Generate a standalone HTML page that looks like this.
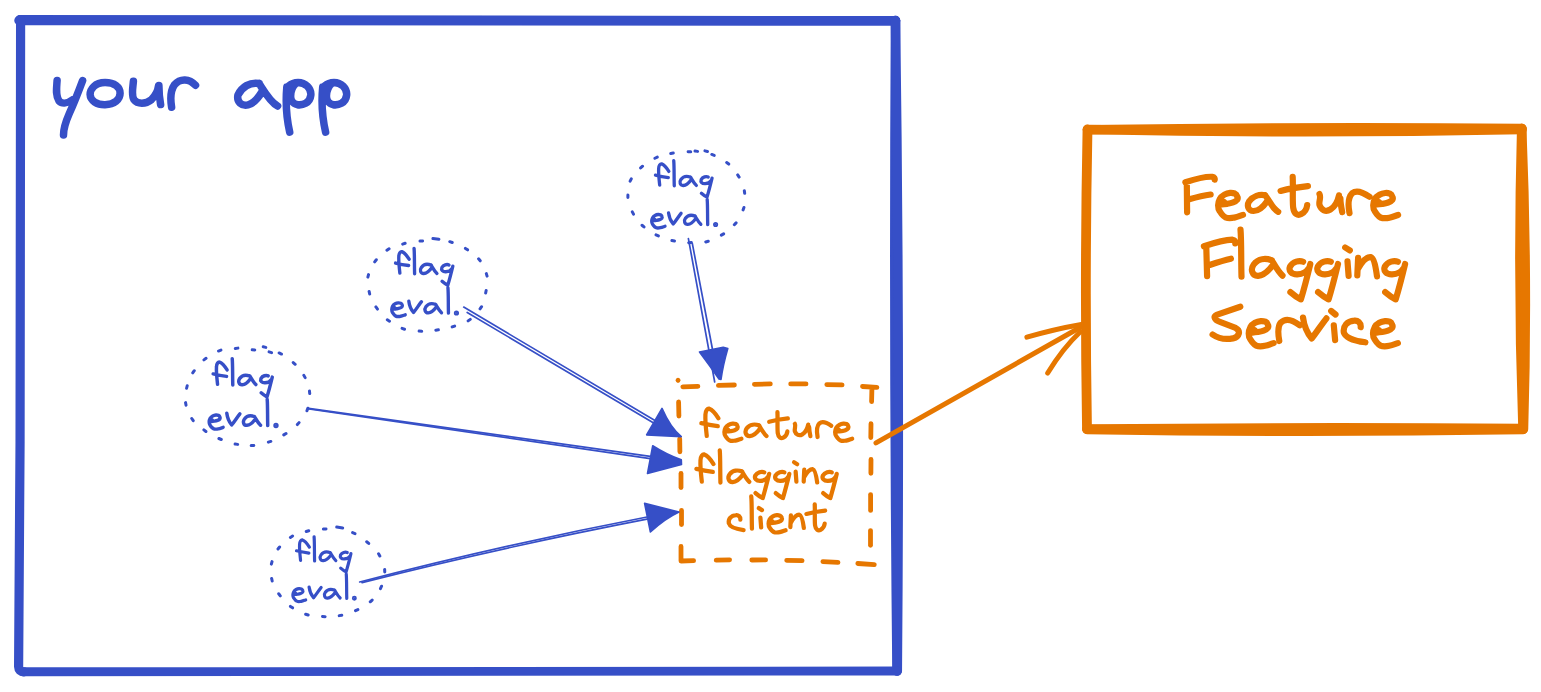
<!DOCTYPE html>
<html><head><meta charset="utf-8">
<style>
html,body{margin:0;padding:0;background:#fff;width:1541px;height:692px;overflow:hidden;font-family:"Liberation Sans",sans-serif;}
svg{position:absolute;left:0;top:0;}
</style></head>
<body>
<svg width="1541" height="692" viewBox="0 0 1541 692">
<g fill="none" stroke-linecap="round" stroke-linejoin="round">
<!-- big blue rect -->
<g stroke="#364fc7">
<path d="M19.8 19.8 Q458 19.5 895.5 20.8" stroke-width="9.5"/>
<path d="M19 20.5 Q458 21.5 895.5 20.8" stroke-width="9.5"/>
<path d="M895.5 20.5 Q893.5 345 897 671" stroke-width="9.5"/>
<path d="M895.5 20.5 Q900 345 897.3 671" stroke-width="9.5"/>
<path d="M23 671.8 L897 671" stroke-width="8.9"/>
<path d="M20.6 19.6 C20.8 250 20.5 450 18.6 666.5 Q18.8 671.8 24 671.8" stroke-width="9.2"/>
</g>
<!-- orange service rect -->
<g stroke="#e67700" stroke-width="9.5">
<path d="M1087.5 129.8 Q1305 126.5 1522 128.5"/>
<path d="M1087.5 129.5 Q1305 134 1522 129.5"/>
<path d="M1087 429 Q1305 427 1523 428.5"/>
<path d="M1087 429.5 Q1305 433 1523 429.5"/>
<path d="M1087.5 129.5 Q1084.5 280 1087 429" stroke-width="9.8"/>
<path d="M1521.7 128.5 Q1517.5 280 1523 429"/>
<path d="M1521.7 128.5 Q1528 280 1523.5 429"/>
</g>
<!-- ellipses -->
<path d="M670.72 153.55L673.28 153.05M688.10 151.75L690.70 151.85M695.01 151.03L697.59 151.37M704.94 150.87L707.46 151.53M711.79 154.44L714.21 155.36M726.66 162.53L728.74 164.07M737.68 174.92L739.12 177.08M744.33 190.71L744.67 193.29M743.94 207.48L743.06 209.92M736.09 222.85L734.31 224.75M723.63 233.86L721.37 235.14M708.25 241.26L705.75 241.94M691.30 242.54L688.70 242.66M674.48 241.03L671.92 240.57M658.39 235.83L656.01 234.77M643.98 226.95L642.02 225.25M633.50 214.15L632.30 211.85M627.89 197.60L627.91 195.00M630.12 181.16L631.28 178.84M640.64 167.97L642.56 166.23M654.92 158.25L657.28 157.15M420.00 241.11L422.60 240.89M449.77 241.69L452.23 242.51M465.41 248.39L467.59 249.81M478.58 258.79L480.22 260.81M486.34 273.65L487.06 276.15M486.15 290.52L485.65 293.08M481.56 306.74L480.04 308.86M470.26 319.35L468.14 320.85M454.62 326.04L452.18 326.96M438.39 329.83L435.81 330.17M421.69 331.32L419.11 331.08M404.53 329.21L402.07 328.39M389.49 321.21L387.31 319.79M377.49 309.04L375.91 306.96M369.68 293.97L369.12 291.43M367.88 277.16L368.52 274.64M374.70 261.82L376.30 259.78M386.92 250.22L389.08 248.78M402.67 244.12L405.13 243.28M432.92 238.57L438.88 239.23M235.31 348.49L237.89 348.11M252.20 349.80L254.80 350.00M263.23 346.83L265.77 347.37M269.06 351.91L271.54 352.69M279.12 352.95L281.48 354.05M293.22 362.54L295.18 364.26M303.86 375.37L305.14 377.63M309.47 391.01L309.73 393.59M307.84 408.28L306.96 410.72M299.05 422.62L297.35 424.58M286.01 433.52L283.79 434.88M270.85 441.43L268.35 442.17M253.80 445.43L251.20 445.57M237.69 444.39L235.11 444.01M221.30 439.49L218.90 438.51M205.92 431.50L203.88 429.90M193.23 420.68L191.77 418.52M186.05 405.18L185.55 402.62M186.59 388.26L187.21 385.74M192.74 372.86L194.26 370.74M203.95 359.86L206.05 358.34M218.49 351.07L220.91 350.13M323.40 529.07L326.00 528.93M352.60 532.61L355.00 533.59M366.70 541.77L368.70 543.43M378.58 553.76L379.82 556.04M384.65 569.40L384.75 572.00M381.55 586.22L380.45 588.58M372.16 600.02L370.24 601.78M357.88 609.55L355.52 610.65M341.78 615.17L339.22 615.63M325.10 616.68L322.50 616.52M308.14 614.99L305.66 614.21M292.59 607.81L290.41 606.39M280.28 595.84L278.72 593.76M272.18 580.97L271.62 578.43M271.37 564.16L272.03 561.64M278.00 549.02L279.60 546.98M290.41 537.40L292.59 536.00M306.26 531.49L308.74 530.71M336.74 527.03L342.66 527.97" stroke="#364fc7" stroke-width="3"/>
<!-- dashed client rect -->
<g stroke="#e67700" stroke-width="4.8">
<path d="M678.0 380.2 L678.1 380.3"/>
<path d="M682.8 386.8 L697.9 386.4"/>
<path d="M718.4 385.4 L734.4 385.0"/>
<path d="M754.4 384.3 L770.3 383.9"/>
<path d="M790.7 383.9 L806.0 383.9"/>
<path d="M826.8 384.6 L842.1 384.9"/>
<path d="M862.5 386.5 L876.9 387.3 M871.9 389.1 L871.6 401.6"/>
<path d="M871.0 423.7 L870.8 437.5"/>
<path d="M871.0 459.5 L870.9 473.3"/>
<path d="M870.6 494.6 L870.6 510.4"/>
<path d="M870.5 530.6 L870.5 545.3"/>
<path d="M857.8 563.5 L874.3 564.7"/>
<path d="M822.9 561.6 L838.0 562.3"/>
<path d="M786.7 560.3 L802.1 560.7"/>
<path d="M751.8 560.0 L765.6 559.9"/>
<path d="M716.2 560.1 L729.6 559.8"/>
<path d="M681.0 546.5 L681.0 561.0 L693.6 560.7"/>
<path d="M681.5 510.4 L681.5 524.5"/>
<path d="M681.0 473.5 L681.0 487.6"/>
<path d="M679.7 438.8 L679.9 451.8"/>
<path d="M678.6 402.0 L678.9 416.0"/>
</g>
<!-- orange arrow to service -->
<g stroke="#e67700" stroke-width="5">
<path d="M876 442.9 L1081.3 326.8"/>
<path d="M1026.9 337.2 Q1054.7 329.1 1081.3 324.5"/>
<path d="M1047.7 373 Q1063 348 1080.1 332"/>
</g>
<!-- blue arrows -->
<g stroke="#364fc7" stroke-width="1.7">
<path d="M463.7 307.1 L660 423.5"/>
<path d="M467.2 312.5 L660 426.8"/>
<path d="M308.6 408.3 L652 456.6"/>
<path d="M309 409 L652 458.8"/>
<path d="M359.7 582 Q500 545.4 652 516"/>
<path d="M362 582.6 Q500 547.6 652 518.2"/>
<path d="M688.4 238.7 L714.7 382"/>
<path d="M692.3 243.4 L713 352"/>
</g>
<g fill="#364fc7" stroke="#364fc7" stroke-width="1.6">
<path d="M662 408.4 Q670.5 428 681.3 436.6 L646.6 434.9 Z"/>
<path d="M652.7 445.8 Q668 455.5 681.3 459.8 L681.5 464.5 L647.5 473.5 Z"/>
<path d="M644.6 503.4 L679 512 Q665 518.5 650.4 532 Z"/>
<path d="M699.5 352 L723.2 347.2 L727.8 348.5 Q723 365 721 379.5 L719 379 Q710 366 699.5 352 Z"/>
</g>

<path d="M 1185.4,182.3 C 1193.2,179.7 1203.6,176.3 1212.3,176.8 C 1214.5,177.1 1214.9,178.4 1214.7,179.7 M 1186.8,183.2 L 1187.1,212.3 M 1189.3,199.2 C 1196.7,197.1 1204.5,195.3 1210.6,194.5 M 1222.3,204.0 L 1224.1,202.1 M 1221.8,204.4 C 1224.0,204.2 1225.7,204.0 1227.4,203.8 C 1229.6,203.4 1231.4,203.0 1233.1,202.4 C 1234.8,201.8 1236.4,200.9 1237.2,199.8 C 1237.8,198.8 1237.8,197.5 1237.3,196.6 C 1236.7,194.9 1235.7,193.9 1234.8,193.5 C 1233.1,192.9 1231.8,192.8 1230.2,192.9 C 1227.9,193.1 1226.2,193.6 1224.4,194.6 C 1222.3,195.8 1220.7,197.3 1219.8,198.9 C 1218.8,200.8 1218.1,203.2 1218.1,205.2 C 1218.1,207.9 1218.6,209.7 1219.6,211.0 C 1221.4,214.0 1224.0,217.5 1227.4,218.0 C 1229.6,218.2 1232.2,218.1 1234.3,217.6 C 1237.4,217.0 1240.5,215.7 1243.0,214.9 M 1265.2,195.3 C 1259.5,194.0 1253.0,196.2 1249.1,201.4 C 1246.5,205.8 1248.3,211.0 1253.5,211.0 C 1258.7,210.8 1263.4,206.6 1266.9,201.4 M 1265.2,195.3 C 1268.6,199.7 1271.2,204.9 1273.8,207.9 C 1275.6,209.9 1276.9,211.0 1278.2,211.8 M 1292.7,176.8 C 1293.2,187.7 1292.3,201.3 1293.2,207.7 C 1294.1,214.1 1297.7,215.9 1301.3,214.1 C 1305.0,212.2 1306.8,208.6 1307.2,205.0 M 1280.6,190.9 C 1288.6,188.8 1299.5,187.0 1307.9,186.1 M 1319.5,194.1 C 1321.3,197.7 1318.6,201.3 1319.5,205.0 C 1321.3,210.4 1325.9,212.2 1330.4,209.5 C 1335.0,206.8 1337.7,201.3 1339.0,195.4 M 1340.4,198.6 C 1340.4,203.2 1341.3,207.7 1342.2,212.2 M 1349.5,213.2 C 1348.1,205.9 1347.7,197.7 1352.2,193.2 C 1356.8,189.5 1363.1,192.3 1369.5,196.8 M 1377.4,204.1 L 1379.2,202.2 M 1376.9,204.5 C 1379.1,204.3 1380.8,204.1 1382.5,203.9 C 1384.7,203.5 1386.5,203.1 1388.2,202.5 C 1389.9,201.9 1391.5,201.0 1392.3,199.9 C 1392.9,198.9 1392.9,197.6 1392.4,196.7 C 1391.8,195.0 1390.8,194.0 1389.9,193.6 C 1388.2,193.0 1386.9,192.9 1385.3,193.0 C 1383.0,193.2 1381.3,193.7 1379.5,194.7 C 1377.4,195.9 1375.8,197.4 1374.9,199.0 C 1373.9,200.9 1373.2,203.3 1373.2,205.3 C 1373.2,208.0 1373.7,209.8 1374.7,211.1 C 1376.5,214.1 1379.1,217.6 1382.5,218.1 C 1384.7,218.3 1387.3,218.2 1389.4,217.7 C 1392.5,217.1 1395.6,215.8 1398.1,215.0 M 1203.9,246.2 C 1213.2,243.2 1224.3,240.0 1232.4,239.7 C 1234.7,240.2 1235.5,241.7 1235.3,243.4 M 1206.3,247.5 L 1207.1,276.1 M 1210.4,264.7 C 1217.3,262.4 1224.3,260.2 1230.9,258.7 M 1240.5,229.6 C 1241.5,240.2 1241.0,260.4 1241.5,276.6 M 1271.9,260.4 C 1265.8,257.9 1258.2,258.4 1253.7,264.5 C 1250.1,269.5 1252.2,276.1 1258.2,275.8 C 1264.3,275.4 1268.9,270.5 1272.9,265.0 M 1271.7,260.2 C 1274.9,265.5 1278.0,271.5 1282.5,275.6 M 1303.1,261.8 C 1299.4,260.1 1292.9,261.5 1290.0,266.6 C 1288.3,270.9 1291.5,274.5 1297.3,274.3 C 1302.3,274.1 1306.7,271.6 1308.9,268.0 M 1310.3,264.0 C 1308.1,273.1 1304.5,287.5 1300.9,299.4 C 1297.3,297.6 1292.9,294.3 1290.4,292.1 M 1330.8,261.8 C 1327.1,260.1 1320.7,261.5 1317.8,266.6 C 1316.0,270.9 1319.3,274.5 1325.1,274.3 C 1330.0,274.1 1334.4,271.6 1336.6,268.0 M 1338.0,264.0 C 1335.8,273.1 1332.2,287.5 1328.6,299.4 C 1325.1,297.6 1320.7,294.3 1318.1,292.1 M 1347.5,261.4 L 1348.6,275.8 M 1345.2,247.5 L 1349.8,250.4 M 1358.1,257.9 L 1357.3,275.3 M 1357.9,268.9 C 1362.5,260.8 1367.1,256.8 1370.6,257.1 C 1374.1,257.9 1375.8,267.7 1377.0,276.4 M 1397.9,261.8 C 1394.2,260.1 1387.7,261.5 1384.8,266.6 C 1383.1,270.9 1386.3,274.5 1392.1,274.3 C 1397.1,274.1 1401.5,271.6 1403.7,268.0 M 1405.1,264.0 C 1402.9,273.1 1399.3,287.5 1395.7,299.4 C 1392.1,297.6 1387.7,294.3 1385.2,292.1 M 1240.3,306.7 L 1216.5,314.9 C 1213.0,316.7 1214.7,320.1 1219.9,321.9 L 1235.6,327.9 C 1240.8,330.6 1239.9,336.6 1232.9,338.4 C 1226.0,339.7 1218.2,338.4 1212.6,334.5 M 1252.9,332.2 L 1254.7,330.3 M 1252.4,332.6 C 1254.6,332.4 1256.3,332.2 1258.0,332.0 C 1260.2,331.6 1262.0,331.2 1263.7,330.6 C 1265.4,330.0 1267.0,329.1 1267.8,328.0 C 1268.4,327.0 1268.4,325.7 1267.9,324.8 C 1267.3,323.1 1266.3,322.1 1265.4,321.7 C 1263.7,321.1 1262.4,321.0 1260.8,321.1 C 1258.5,321.3 1256.8,321.8 1255.0,322.8 C 1252.9,324.0 1251.3,325.5 1250.4,327.1 C 1249.4,329.0 1248.7,331.4 1248.7,333.4 C 1248.7,336.1 1249.2,337.9 1250.2,339.2 C 1252.0,342.2 1254.6,345.7 1258.0,346.2 C 1260.2,346.4 1262.8,346.3 1264.9,345.8 C 1268.0,345.2 1271.1,343.9 1273.6,343.1 M 1279.3,341.0 C 1278.0,334.0 1277.2,327.1 1280.6,322.7 C 1285.0,318.4 1291.9,319.3 1299.7,325.3 M 1303.0,317.5 C 1303.9,324.5 1307.3,333.2 1311.7,338.4 C 1316.0,333.2 1322.1,323.6 1326.4,318.4 M 1333.8,325.3 L 1335.1,340.1 M 1331.2,311.0 L 1335.5,314.5 M 1360.7,327.1 C 1361.1,322.7 1357.6,320.1 1354.2,320.6 C 1347.2,321.0 1342.9,326.2 1343.8,332.3 C 1345.5,338.4 1355.9,341.0 1365.4,342.3 M 1377.2,332.2 L 1379.0,330.3 M 1376.7,332.6 C 1378.9,332.4 1380.6,332.2 1382.3,332.0 C 1384.5,331.6 1386.3,331.2 1388.0,330.6 C 1389.7,330.0 1391.3,329.1 1392.1,328.0 C 1392.7,327.0 1392.7,325.7 1392.2,324.8 C 1391.6,323.1 1390.6,322.1 1389.7,321.7 C 1388.0,321.1 1386.7,321.0 1385.1,321.1 C 1382.8,321.3 1381.1,321.8 1379.3,322.8 C 1377.2,324.0 1375.6,325.5 1374.7,327.1 C 1373.7,329.0 1373.0,331.4 1373.0,333.4 C 1373.0,336.1 1373.5,337.9 1374.5,339.2 C 1376.3,342.2 1378.9,345.7 1382.3,346.2 C 1384.5,346.4 1387.1,346.3 1389.2,345.8 C 1392.3,345.2 1395.4,343.9 1397.9,343.1" stroke="#e67700" stroke-width="6.2"/>
<path d="M 57.1,80.6 C 56.6,88.1 55.4,95.1 58.9,100.8 C 62.3,104.3 68.1,103.2 72.7,99.7 M 82.6,80.6 C 78.5,91.6 73.9,103.2 69.3,113.6 C 65.8,121.6 63.5,128.6 63.5,134.9 M 105.1,82.6 C 94.7,82.6 90.1,89.3 90.1,94.5 C 90.3,100.8 97.0,104.9 105.1,104.7 C 114.4,104.3 120.1,99.7 120.1,93.3 C 120.1,87.0 114.4,82.6 105.1,82.6 Z M 133.4,81.2 C 132.9,88.1 131.1,95.1 134.0,99.7 C 137.5,104.3 145.6,104.3 151.4,99.7 C 156.0,95.1 158.1,89.3 158.5,86.0 M 158.9,85.6 C 158.9,92.2 159.5,98.5 160.6,104.5 M 171.6,107.2 C 170.4,99.7 170.4,90.4 174.5,84.7 C 180.3,77.9 189.5,78.6 195.5,85.3 M 259.1,83.5 C 249.9,81.8 241.8,87.0 237.9,95.1 C 236.6,102.0 241.8,106.4 248.1,104.9 C 253.9,103.4 258.5,97.6 262.0,91.8 M 259.1,83.5 C 264.3,91.6 270.1,102.0 277.6,106.0 M 286.8,87.0 C 285.7,99.7 286.3,117.0 289.7,132.1 M 287.4,87.5 C 289.7,84.4 292.1,83.3 295.5,82.6 C 305.9,81.2 311.5,89.3 310.8,95.3 C 310.0,103.2 302.5,105.5 297.3,104.7 C 292.6,103.7 290.3,99.7 290.7,95.3 C 290.9,91.0 292.6,86.4 295.8,83.5 M 322.7,87.0 C 321.5,99.7 322.1,117.0 325.6,132.1 M 323.3,87.5 C 325.6,84.4 327.9,83.3 331.4,82.6 C 341.8,81.2 347.3,89.3 346.6,95.3 C 345.8,103.2 338.3,105.5 333.1,104.7 C 328.5,103.7 326.2,99.7 326.5,95.3 C 326.7,91.0 328.5,86.4 331.6,83.5" stroke="#364fc7" stroke-width="7.5"/>
<path transform="translate(709.90 422.30) scale(0.9514) translate(-710.60 -422.59)" d="M 707.3,436.9 C 706.6,430.4 705.5,421.7 705.9,414.5 C 706.0,410.1 708.1,408.0 709.9,408.3 C 713.1,409.4 716.7,413.7 719.6,418.4 M 701.6,423.5 C 707.3,424.9 713.1,426.0 718.9,426.7" stroke="#e67700" stroke-width="4.46"/>
<path transform="translate(732.90 432.25) scale(0.6850) translate(-1230.55 -205.48)" d="M 1222.3,204.0 L 1224.1,202.1 M 1221.8,204.4 C 1224.0,204.2 1225.7,204.0 1227.4,203.8 C 1229.6,203.4 1231.4,203.0 1233.1,202.4 C 1234.8,201.8 1236.4,200.9 1237.2,199.8 C 1237.8,198.8 1237.8,197.5 1237.3,196.6 C 1236.7,194.9 1235.7,193.9 1234.8,193.5 C 1233.1,192.9 1231.8,192.8 1230.2,192.9 C 1227.9,193.1 1226.2,193.6 1224.4,194.6 C 1222.3,195.8 1220.7,197.3 1219.8,198.9 C 1218.8,200.8 1218.1,203.2 1218.1,205.2 C 1218.1,207.9 1218.6,209.7 1219.6,211.0 C 1221.4,214.0 1224.0,217.5 1227.4,218.0 C 1229.6,218.2 1232.2,218.1 1234.3,217.6 C 1237.4,217.0 1240.5,215.7 1243.0,214.9" stroke="#e67700" stroke-width="6.20"/>
<path transform="translate(756.00 430.35) scale(0.6850) translate(-1267.22 -267.40)" d="M 1271.9,260.4 C 1265.8,257.9 1258.2,258.4 1253.7,264.5 C 1250.1,269.5 1252.2,276.1 1258.2,275.8 C 1264.3,275.4 1268.9,270.5 1272.9,265.0 M 1271.7,260.2 C 1274.9,265.5 1278.0,271.5 1282.5,275.6" stroke="#e67700" stroke-width="6.20"/>
<path transform="translate(778.50 425.10) scale(0.6850) translate(-1294.25 -195.78)" d="M 1292.7,176.8 C 1293.2,187.7 1292.3,201.3 1293.2,207.7 C 1294.1,214.1 1297.7,215.9 1301.3,214.1 C 1305.0,212.2 1306.8,208.6 1307.2,205.0 M 1280.6,190.9 C 1288.6,188.8 1299.5,187.0 1307.9,186.1" stroke="#e67700" stroke-width="6.20"/>
<path transform="translate(802.55 430.00) scale(0.6850) translate(-1330.76 -203.15)" d="M 1319.5,194.1 C 1321.3,197.7 1318.6,201.3 1319.5,205.0 C 1321.3,210.4 1325.9,212.2 1330.4,209.5 C 1335.0,206.8 1337.7,201.3 1339.0,195.4 M 1340.4,198.6 C 1340.4,203.2 1341.3,207.7 1342.2,212.2" stroke="#e67700" stroke-width="6.20"/>
<path transform="translate(824.10 429.55) scale(0.6850) translate(-1359.02 -202.34)" d="M 1349.5,213.2 C 1348.1,205.9 1347.7,197.7 1352.2,193.2 C 1356.8,189.5 1363.1,192.3 1369.5,196.8" stroke="#e67700" stroke-width="6.20"/>
<path transform="translate(843.65 432.25) scale(0.6850) translate(-1230.55 -205.48)" d="M 1222.3,204.0 L 1224.1,202.1 M 1221.8,204.4 C 1224.0,204.2 1225.7,204.0 1227.4,203.8 C 1229.6,203.4 1231.4,203.0 1233.1,202.4 C 1234.8,201.8 1236.4,200.9 1237.2,199.8 C 1237.8,198.8 1237.8,197.5 1237.3,196.6 C 1236.7,194.9 1235.7,193.9 1234.8,193.5 C 1233.1,192.9 1231.8,192.8 1230.2,192.9 C 1227.9,193.1 1226.2,193.6 1224.4,194.6 C 1222.3,195.8 1220.7,197.3 1219.8,198.9 C 1218.8,200.8 1218.1,203.2 1218.1,205.2 C 1218.1,207.9 1218.6,209.7 1219.6,211.0 C 1221.4,214.0 1224.0,217.5 1227.4,218.0 C 1229.6,218.2 1232.2,218.1 1234.3,217.6 C 1237.4,217.0 1240.5,215.7 1243.0,214.9" stroke="#e67700" stroke-width="6.20"/>
<path transform="translate(704.95 468.00) scale(0.9514) translate(-710.60 -422.59)" d="M 707.3,436.9 C 706.6,430.4 705.5,421.7 705.9,414.5 C 706.0,410.1 708.1,408.0 709.9,408.3 C 713.1,409.4 716.7,413.7 719.6,418.4 M 701.6,423.5 C 707.3,424.9 713.1,426.0 718.9,426.7" stroke="#e67700" stroke-width="4.46"/>
<path transform="translate(720.10 466.50) scale(0.6850) translate(-1241.00 -253.10)" d="M 1240.5,229.6 C 1241.5,240.2 1241.0,260.4 1241.5,276.6" stroke="#e67700" stroke-width="6.20"/>
<path transform="translate(738.90 476.30) scale(0.6850) translate(-1267.22 -267.40)" d="M 1271.9,260.4 C 1265.8,257.9 1258.2,258.4 1253.7,264.5 C 1250.1,269.5 1252.2,276.1 1258.2,275.8 C 1264.3,275.4 1268.9,270.5 1272.9,265.0 M 1271.7,260.2 C 1274.9,265.5 1278.0,271.5 1282.5,275.6" stroke="#e67700" stroke-width="6.20"/>
<path transform="translate(762.05 484.95) scale(0.6850) translate(-1299.92 -280.26)" d="M 1303.1,261.8 C 1299.4,260.1 1292.9,261.5 1290.0,266.6 C 1288.3,270.9 1291.5,274.5 1297.3,274.3 C 1302.3,274.1 1306.7,271.6 1308.9,268.0 M 1310.3,264.0 C 1308.1,273.1 1304.5,287.5 1300.9,299.4 C 1297.3,297.6 1292.9,294.3 1290.4,292.1" stroke="#e67700" stroke-width="6.20"/>
<path transform="translate(782.25 484.95) scale(0.6850) translate(-1299.92 -280.26)" d="M 1303.1,261.8 C 1299.4,260.1 1292.9,261.5 1290.0,266.6 C 1288.3,270.9 1291.5,274.5 1297.3,274.3 C 1302.3,274.1 1306.7,271.6 1308.9,268.0 M 1310.3,264.0 C 1308.1,273.1 1304.5,287.5 1300.9,299.4 C 1297.3,297.6 1292.9,294.3 1290.4,292.1" stroke="#e67700" stroke-width="6.20"/>
<path transform="translate(795.65 471.90) scale(0.6850) translate(-1347.50 -261.65)" d="M 1347.5,261.4 L 1348.6,275.8 M 1345.2,247.5 L 1349.8,250.4" stroke="#e67700" stroke-width="6.20"/>
<path transform="translate(810.45 475.80) scale(0.6850) translate(-1367.15 -266.74)" d="M 1358.1,257.9 L 1357.3,275.3 M 1357.9,268.9 C 1362.5,260.8 1367.1,256.8 1370.6,257.1 C 1374.1,257.9 1375.8,267.7 1377.0,276.4" stroke="#e67700" stroke-width="6.20"/>
<path transform="translate(829.65 484.95) scale(0.6850) translate(-1299.92 -280.26)" d="M 1303.1,261.8 C 1299.4,260.1 1292.9,261.5 1290.0,266.6 C 1288.3,270.9 1291.5,274.5 1297.3,274.3 C 1302.3,274.1 1306.7,271.6 1308.9,268.0 M 1310.3,264.0 C 1308.1,273.1 1304.5,287.5 1300.9,299.4 C 1297.3,297.6 1292.9,294.3 1290.4,292.1" stroke="#e67700" stroke-width="6.20"/>
<path transform="translate(736.15 522.60) scale(0.6850) translate(-1354.54 -331.42)" d="M 1360.7,327.1 C 1361.1,322.7 1357.6,320.1 1354.2,320.6 C 1347.2,321.0 1342.9,326.2 1343.8,332.3 C 1345.5,338.4 1355.9,341.0 1365.4,342.3" stroke="#e67700" stroke-width="6.20"/>
<path transform="translate(751.60 512.50) scale(0.6850) translate(-1241.00 -253.10)" d="M 1240.5,229.6 C 1241.5,240.2 1241.0,260.4 1241.5,276.6" stroke="#e67700" stroke-width="6.20"/>
<path transform="translate(760.40 517.80) scale(0.6850) translate(-1347.50 -261.65)" d="M 1347.5,261.4 L 1348.6,275.8 M 1345.2,247.5 L 1349.8,250.4" stroke="#e67700" stroke-width="6.20"/>
<path transform="translate(777.10 523.85) scale(0.6850) translate(-1230.55 -205.48)" d="M 1222.3,204.0 L 1224.1,202.1 M 1221.8,204.4 C 1224.0,204.2 1225.7,204.0 1227.4,203.8 C 1229.6,203.4 1231.4,203.0 1233.1,202.4 C 1234.8,201.8 1236.4,200.9 1237.2,199.8 C 1237.8,198.8 1237.8,197.5 1237.3,196.6 C 1236.7,194.9 1235.7,193.9 1234.8,193.5 C 1233.1,192.9 1231.8,192.8 1230.2,192.9 C 1227.9,193.1 1226.2,193.6 1224.4,194.6 C 1222.3,195.8 1220.7,197.3 1219.8,198.9 C 1218.8,200.8 1218.1,203.2 1218.1,205.2 C 1218.1,207.9 1218.6,209.7 1219.6,211.0 C 1221.4,214.0 1224.0,217.5 1227.4,218.0 C 1229.6,218.2 1232.2,218.1 1234.3,217.6 C 1237.4,217.0 1240.5,215.7 1243.0,214.9" stroke="#e67700" stroke-width="6.20"/>
<path transform="translate(797.10 521.35) scale(0.6850) translate(-1367.15 -266.74)" d="M 1358.1,257.9 L 1357.3,275.3 M 1357.9,268.9 C 1362.5,260.8 1367.1,256.8 1370.6,257.1 C 1374.1,257.9 1375.8,267.7 1377.0,276.4" stroke="#e67700" stroke-width="6.20"/>
<path transform="translate(815.80 517.30) scale(0.6850) translate(-1294.25 -195.78)" d="M 1292.7,176.8 C 1293.2,187.7 1292.3,201.3 1293.2,207.7 C 1294.1,214.1 1297.7,215.9 1301.3,214.1 C 1305.0,212.2 1306.8,208.6 1307.2,205.0 M 1280.6,190.9 C 1288.6,188.8 1299.5,187.0 1307.9,186.1" stroke="#e67700" stroke-width="6.20"/>
<g><path transform="translate(662.15 174.50) scale(0.7431) translate(-710.60 -422.59)" d="M 707.3,436.9 C 706.6,430.4 705.5,421.7 705.9,414.5 C 706.0,410.1 708.1,408.0 709.9,408.3 C 713.1,409.4 716.7,413.7 719.6,418.4 M 701.6,423.5 C 707.3,424.9 713.1,426.0 718.9,426.7" stroke="#364fc7" stroke-width="4.46"/>
<path transform="translate(674.00 173.20) scale(0.5350) translate(-1241.00 -253.10)" d="M 1240.5,229.6 C 1241.5,240.2 1241.0,260.4 1241.5,276.6" stroke="#364fc7" stroke-width="6.20"/>
<path transform="translate(688.15 181.00) scale(0.5350) translate(-1267.22 -267.40)" d="M 1271.9,260.4 C 1265.8,257.9 1258.2,258.4 1253.7,264.5 C 1250.1,269.5 1252.2,276.1 1258.2,275.8 C 1264.3,275.4 1268.9,270.5 1272.9,265.0 M 1271.7,260.2 C 1274.9,265.5 1278.0,271.5 1282.5,275.6" stroke="#364fc7" stroke-width="6.20"/>
<path transform="translate(706.50 186.90) scale(0.5350) translate(-1299.92 -280.26)" d="M 1303.1,261.8 C 1299.4,260.1 1292.9,261.5 1290.0,266.6 C 1288.3,270.9 1291.5,274.5 1297.3,274.3 C 1302.3,274.1 1306.7,271.6 1308.9,268.0 M 1310.3,264.0 C 1308.1,273.1 1304.5,287.5 1300.9,299.4 C 1297.3,297.6 1292.9,294.3 1290.4,292.1" stroke="#364fc7" stroke-width="6.20"/>
<path transform="translate(658.35 221.25) scale(0.5350) translate(-1230.55 -205.48)" d="M 1222.3,204.0 L 1224.1,202.1 M 1221.8,204.4 C 1224.0,204.2 1225.7,204.0 1227.4,203.8 C 1229.6,203.4 1231.4,203.0 1233.1,202.4 C 1234.8,201.8 1236.4,200.9 1237.2,199.8 C 1237.8,198.8 1237.8,197.5 1237.3,196.6 C 1236.7,194.9 1235.7,193.9 1234.8,193.5 C 1233.1,192.9 1231.8,192.8 1230.2,192.9 C 1227.9,193.1 1226.2,193.6 1224.4,194.6 C 1222.3,195.8 1220.7,197.3 1219.8,198.9 C 1218.8,200.8 1218.1,203.2 1218.1,205.2 C 1218.1,207.9 1218.6,209.7 1219.6,211.0 C 1221.4,214.0 1224.0,217.5 1227.4,218.0 C 1229.6,218.2 1232.2,218.1 1234.3,217.6 C 1237.4,217.0 1240.5,215.7 1243.0,214.9" stroke="#364fc7" stroke-width="6.20"/>
<path transform="translate(674.80 218.45) scale(0.5350) translate(-1314.70 -327.95)" d="M 1303.0,317.5 C 1303.9,324.5 1307.3,333.2 1311.7,338.4 C 1316.0,333.2 1322.1,323.6 1326.4,318.4" stroke="#364fc7" stroke-width="6.20"/>
<path transform="translate(692.65 219.90) scale(0.5350) translate(-1267.22 -267.40)" d="M 1271.9,260.4 C 1265.8,257.9 1258.2,258.4 1253.7,264.5 C 1250.1,269.5 1252.2,276.1 1258.2,275.8 C 1264.3,275.4 1268.9,270.5 1272.9,265.0 M 1271.7,260.2 C 1274.9,265.5 1278.0,271.5 1282.5,275.6" stroke="#364fc7" stroke-width="6.20"/>
<path transform="translate(707.45 212.10) scale(0.5350) translate(-1241.00 -253.10)" d="M 1240.5,229.6 C 1241.5,240.2 1241.0,260.4 1241.5,276.6" stroke="#364fc7" stroke-width="6.20"/>
<path transform="translate(715.60 224.50) scale(1.0094) translate(-0.00 -0.00)" d="M-0.9,0 C-0.9,-1.2 0.9,-1.2 0.9,0 C0.9,1.2 -0.9,1.2 -0.9,0 Z" stroke="#364fc7" stroke-width="3.29" fill="#364fc7"/></g>
<g transform="translate(394.0 246.6) scale(1.012) translate(-653.9 -158.9)"><path transform="translate(662.15 174.50) scale(0.7431) translate(-710.60 -422.59)" d="M 707.3,436.9 C 706.6,430.4 705.5,421.7 705.9,414.5 C 706.0,410.1 708.1,408.0 709.9,408.3 C 713.1,409.4 716.7,413.7 719.6,418.4 M 701.6,423.5 C 707.3,424.9 713.1,426.0 718.9,426.7" stroke="#364fc7" stroke-width="4.46"/>
<path transform="translate(674.00 173.20) scale(0.5350) translate(-1241.00 -253.10)" d="M 1240.5,229.6 C 1241.5,240.2 1241.0,260.4 1241.5,276.6" stroke="#364fc7" stroke-width="6.20"/>
<path transform="translate(688.15 181.00) scale(0.5350) translate(-1267.22 -267.40)" d="M 1271.9,260.4 C 1265.8,257.9 1258.2,258.4 1253.7,264.5 C 1250.1,269.5 1252.2,276.1 1258.2,275.8 C 1264.3,275.4 1268.9,270.5 1272.9,265.0 M 1271.7,260.2 C 1274.9,265.5 1278.0,271.5 1282.5,275.6" stroke="#364fc7" stroke-width="6.20"/>
<path transform="translate(706.50 186.90) scale(0.5350) translate(-1299.92 -280.26)" d="M 1303.1,261.8 C 1299.4,260.1 1292.9,261.5 1290.0,266.6 C 1288.3,270.9 1291.5,274.5 1297.3,274.3 C 1302.3,274.1 1306.7,271.6 1308.9,268.0 M 1310.3,264.0 C 1308.1,273.1 1304.5,287.5 1300.9,299.4 C 1297.3,297.6 1292.9,294.3 1290.4,292.1" stroke="#364fc7" stroke-width="6.20"/>
<path transform="translate(658.35 221.25) scale(0.5350) translate(-1230.55 -205.48)" d="M 1222.3,204.0 L 1224.1,202.1 M 1221.8,204.4 C 1224.0,204.2 1225.7,204.0 1227.4,203.8 C 1229.6,203.4 1231.4,203.0 1233.1,202.4 C 1234.8,201.8 1236.4,200.9 1237.2,199.8 C 1237.8,198.8 1237.8,197.5 1237.3,196.6 C 1236.7,194.9 1235.7,193.9 1234.8,193.5 C 1233.1,192.9 1231.8,192.8 1230.2,192.9 C 1227.9,193.1 1226.2,193.6 1224.4,194.6 C 1222.3,195.8 1220.7,197.3 1219.8,198.9 C 1218.8,200.8 1218.1,203.2 1218.1,205.2 C 1218.1,207.9 1218.6,209.7 1219.6,211.0 C 1221.4,214.0 1224.0,217.5 1227.4,218.0 C 1229.6,218.2 1232.2,218.1 1234.3,217.6 C 1237.4,217.0 1240.5,215.7 1243.0,214.9" stroke="#364fc7" stroke-width="6.20"/>
<path transform="translate(674.80 218.45) scale(0.5350) translate(-1314.70 -327.95)" d="M 1303.0,317.5 C 1303.9,324.5 1307.3,333.2 1311.7,338.4 C 1316.0,333.2 1322.1,323.6 1326.4,318.4" stroke="#364fc7" stroke-width="6.20"/>
<path transform="translate(692.65 219.90) scale(0.5350) translate(-1267.22 -267.40)" d="M 1271.9,260.4 C 1265.8,257.9 1258.2,258.4 1253.7,264.5 C 1250.1,269.5 1252.2,276.1 1258.2,275.8 C 1264.3,275.4 1268.9,270.5 1272.9,265.0 M 1271.7,260.2 C 1274.9,265.5 1278.0,271.5 1282.5,275.6" stroke="#364fc7" stroke-width="6.20"/>
<path transform="translate(707.45 212.10) scale(0.5350) translate(-1241.00 -253.10)" d="M 1240.5,229.6 C 1241.5,240.2 1241.0,260.4 1241.5,276.6" stroke="#364fc7" stroke-width="6.20"/>
<path transform="translate(715.60 224.50) scale(1.0094) translate(-0.00 -0.00)" d="M-0.9,0 C-0.9,-1.2 0.9,-1.2 0.9,0 C0.9,1.2 -0.9,1.2 -0.9,0 Z" stroke="#364fc7" stroke-width="3.29" fill="#364fc7"/></g>
<g transform="translate(211.5 356.9) scale(1.045) translate(-653.9 -158.9)"><path transform="translate(662.15 174.50) scale(0.7431) translate(-710.60 -422.59)" d="M 707.3,436.9 C 706.6,430.4 705.5,421.7 705.9,414.5 C 706.0,410.1 708.1,408.0 709.9,408.3 C 713.1,409.4 716.7,413.7 719.6,418.4 M 701.6,423.5 C 707.3,424.9 713.1,426.0 718.9,426.7" stroke="#364fc7" stroke-width="4.46"/>
<path transform="translate(674.00 173.20) scale(0.5350) translate(-1241.00 -253.10)" d="M 1240.5,229.6 C 1241.5,240.2 1241.0,260.4 1241.5,276.6" stroke="#364fc7" stroke-width="6.20"/>
<path transform="translate(688.15 181.00) scale(0.5350) translate(-1267.22 -267.40)" d="M 1271.9,260.4 C 1265.8,257.9 1258.2,258.4 1253.7,264.5 C 1250.1,269.5 1252.2,276.1 1258.2,275.8 C 1264.3,275.4 1268.9,270.5 1272.9,265.0 M 1271.7,260.2 C 1274.9,265.5 1278.0,271.5 1282.5,275.6" stroke="#364fc7" stroke-width="6.20"/>
<path transform="translate(706.50 186.90) scale(0.5350) translate(-1299.92 -280.26)" d="M 1303.1,261.8 C 1299.4,260.1 1292.9,261.5 1290.0,266.6 C 1288.3,270.9 1291.5,274.5 1297.3,274.3 C 1302.3,274.1 1306.7,271.6 1308.9,268.0 M 1310.3,264.0 C 1308.1,273.1 1304.5,287.5 1300.9,299.4 C 1297.3,297.6 1292.9,294.3 1290.4,292.1" stroke="#364fc7" stroke-width="6.20"/>
<path transform="translate(658.35 221.25) scale(0.5350) translate(-1230.55 -205.48)" d="M 1222.3,204.0 L 1224.1,202.1 M 1221.8,204.4 C 1224.0,204.2 1225.7,204.0 1227.4,203.8 C 1229.6,203.4 1231.4,203.0 1233.1,202.4 C 1234.8,201.8 1236.4,200.9 1237.2,199.8 C 1237.8,198.8 1237.8,197.5 1237.3,196.6 C 1236.7,194.9 1235.7,193.9 1234.8,193.5 C 1233.1,192.9 1231.8,192.8 1230.2,192.9 C 1227.9,193.1 1226.2,193.6 1224.4,194.6 C 1222.3,195.8 1220.7,197.3 1219.8,198.9 C 1218.8,200.8 1218.1,203.2 1218.1,205.2 C 1218.1,207.9 1218.6,209.7 1219.6,211.0 C 1221.4,214.0 1224.0,217.5 1227.4,218.0 C 1229.6,218.2 1232.2,218.1 1234.3,217.6 C 1237.4,217.0 1240.5,215.7 1243.0,214.9" stroke="#364fc7" stroke-width="6.20"/>
<path transform="translate(674.80 218.45) scale(0.5350) translate(-1314.70 -327.95)" d="M 1303.0,317.5 C 1303.9,324.5 1307.3,333.2 1311.7,338.4 C 1316.0,333.2 1322.1,323.6 1326.4,318.4" stroke="#364fc7" stroke-width="6.20"/>
<path transform="translate(692.65 219.90) scale(0.5350) translate(-1267.22 -267.40)" d="M 1271.9,260.4 C 1265.8,257.9 1258.2,258.4 1253.7,264.5 C 1250.1,269.5 1252.2,276.1 1258.2,275.8 C 1264.3,275.4 1268.9,270.5 1272.9,265.0 M 1271.7,260.2 C 1274.9,265.5 1278.0,271.5 1282.5,275.6" stroke="#364fc7" stroke-width="6.20"/>
<path transform="translate(707.45 212.10) scale(0.5350) translate(-1241.00 -253.10)" d="M 1240.5,229.6 C 1241.5,240.2 1241.0,260.4 1241.5,276.6" stroke="#364fc7" stroke-width="6.20"/>
<path transform="translate(715.60 224.50) scale(1.0094) translate(-0.00 -0.00)" d="M-0.9,0 C-0.9,-1.2 0.9,-1.2 0.9,0 C0.9,1.2 -0.9,1.2 -0.9,0 Z" stroke="#364fc7" stroke-width="3.29" fill="#364fc7"/></g>
<g transform="translate(295.0 535.1) scale(0.962) translate(-653.9 -158.9)"><path transform="translate(662.15 174.50) scale(0.7431) translate(-710.60 -422.59)" d="M 707.3,436.9 C 706.6,430.4 705.5,421.7 705.9,414.5 C 706.0,410.1 708.1,408.0 709.9,408.3 C 713.1,409.4 716.7,413.7 719.6,418.4 M 701.6,423.5 C 707.3,424.9 713.1,426.0 718.9,426.7" stroke="#364fc7" stroke-width="4.46"/>
<path transform="translate(674.00 173.20) scale(0.5350) translate(-1241.00 -253.10)" d="M 1240.5,229.6 C 1241.5,240.2 1241.0,260.4 1241.5,276.6" stroke="#364fc7" stroke-width="6.20"/>
<path transform="translate(688.15 181.00) scale(0.5350) translate(-1267.22 -267.40)" d="M 1271.9,260.4 C 1265.8,257.9 1258.2,258.4 1253.7,264.5 C 1250.1,269.5 1252.2,276.1 1258.2,275.8 C 1264.3,275.4 1268.9,270.5 1272.9,265.0 M 1271.7,260.2 C 1274.9,265.5 1278.0,271.5 1282.5,275.6" stroke="#364fc7" stroke-width="6.20"/>
<path transform="translate(706.50 186.90) scale(0.5350) translate(-1299.92 -280.26)" d="M 1303.1,261.8 C 1299.4,260.1 1292.9,261.5 1290.0,266.6 C 1288.3,270.9 1291.5,274.5 1297.3,274.3 C 1302.3,274.1 1306.7,271.6 1308.9,268.0 M 1310.3,264.0 C 1308.1,273.1 1304.5,287.5 1300.9,299.4 C 1297.3,297.6 1292.9,294.3 1290.4,292.1" stroke="#364fc7" stroke-width="6.20"/>
<path transform="translate(658.35 221.25) scale(0.5350) translate(-1230.55 -205.48)" d="M 1222.3,204.0 L 1224.1,202.1 M 1221.8,204.4 C 1224.0,204.2 1225.7,204.0 1227.4,203.8 C 1229.6,203.4 1231.4,203.0 1233.1,202.4 C 1234.8,201.8 1236.4,200.9 1237.2,199.8 C 1237.8,198.8 1237.8,197.5 1237.3,196.6 C 1236.7,194.9 1235.7,193.9 1234.8,193.5 C 1233.1,192.9 1231.8,192.8 1230.2,192.9 C 1227.9,193.1 1226.2,193.6 1224.4,194.6 C 1222.3,195.8 1220.7,197.3 1219.8,198.9 C 1218.8,200.8 1218.1,203.2 1218.1,205.2 C 1218.1,207.9 1218.6,209.7 1219.6,211.0 C 1221.4,214.0 1224.0,217.5 1227.4,218.0 C 1229.6,218.2 1232.2,218.1 1234.3,217.6 C 1237.4,217.0 1240.5,215.7 1243.0,214.9" stroke="#364fc7" stroke-width="6.20"/>
<path transform="translate(674.80 218.45) scale(0.5350) translate(-1314.70 -327.95)" d="M 1303.0,317.5 C 1303.9,324.5 1307.3,333.2 1311.7,338.4 C 1316.0,333.2 1322.1,323.6 1326.4,318.4" stroke="#364fc7" stroke-width="6.20"/>
<path transform="translate(692.65 219.90) scale(0.5350) translate(-1267.22 -267.40)" d="M 1271.9,260.4 C 1265.8,257.9 1258.2,258.4 1253.7,264.5 C 1250.1,269.5 1252.2,276.1 1258.2,275.8 C 1264.3,275.4 1268.9,270.5 1272.9,265.0 M 1271.7,260.2 C 1274.9,265.5 1278.0,271.5 1282.5,275.6" stroke="#364fc7" stroke-width="6.20"/>
<path transform="translate(707.45 212.10) scale(0.5350) translate(-1241.00 -253.10)" d="M 1240.5,229.6 C 1241.5,240.2 1241.0,260.4 1241.5,276.6" stroke="#364fc7" stroke-width="6.20"/>
<path transform="translate(715.60 224.50) scale(1.0094) translate(-0.00 -0.00)" d="M-0.9,0 C-0.9,-1.2 0.9,-1.2 0.9,0 C0.9,1.2 -0.9,1.2 -0.9,0 Z" stroke="#364fc7" stroke-width="3.29" fill="#364fc7"/></g>
</g>
</svg>
</body></html>
